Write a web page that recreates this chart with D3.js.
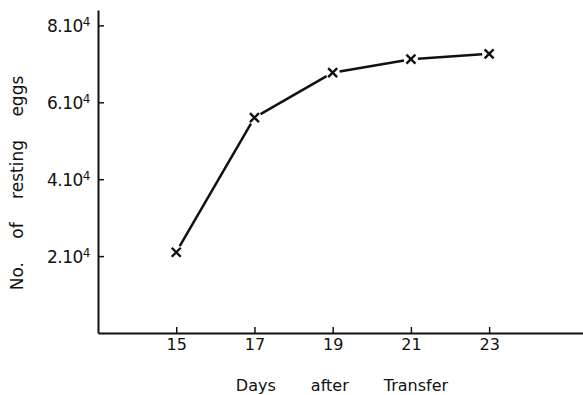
<!DOCTYPE html>
<html>
<head>
<meta charset="utf-8">
<script src="https://cdn.jsdelivr.net/npm/d3@7"></script>
<style>
  body { margin: 0; background: #fff; }
  svg { display: block; }
  text { font-family: "DejaVu Sans", sans-serif; fill: #111; }
</style>
</head>
<body>
<svg></svg>
<script>
const days = [15, 17, 19, 21, 23];
const eggs = [21000, 56000, 67700, 71200, 72600];
const xTicks = [15, 17, 19, 21, 23];
const yTicks = [20000, 40000, 60000, 80000];
const yTickLabels = ["2.10", "4.10", "6.10", "8.10"];

const width = 583;
const height = 395;
const svg = d3.select("svg")
    .attr("width", width)
    .attr("height", height);

const x = d3.scaleLinear().domain([13, 25.4]).range([98, 583]);
const y = d3.scaleLinear().domain([0, 84000]).range([333, 10]);

// axes
const xAxis = svg.append("g")
    .attr("transform", `translate(0,${y(0)})`)
    .call(d3.axisBottom(x).tickValues(xTicks).tickSize(-6).tickSizeOuter(0).tickFormat(d3.format("d")));
xAxis.select(".domain").attr("stroke", "#111").attr("stroke-width", 2);
xAxis.selectAll(".tick line").attr("stroke", "#111").attr("stroke-width", 1.5);
xAxis.selectAll(".tick text")
    .attr("y", 6)
    .style("font-size", "16px");

const yAxis = svg.append("g")
    .attr("transform", `translate(${x(13)},0)`)
    .call(d3.axisLeft(y).tickValues(yTicks).tickSize(-6).tickSizeOuter(0).tickFormat(() => ""));
yAxis.select(".domain").attr("stroke", "#111").attr("stroke-width", 2);
yAxis.selectAll(".tick line").attr("stroke", "#111").attr("stroke-width", 1.5);
yAxis.selectAll(".tick text").each(function(d, i) {
    const t = d3.select(this)
        .attr("x", -8)
        .attr("dy", "0.35em")
        .style("font-size", "17px")
        .style("letter-spacing", "-0.5px");
    t.text(yTickLabels[i]);
    t.append("tspan")
        .attr("dy", "-0.5em")
        .style("font-size", "12px")
        .text("4");
});

// line with gaps around markers
const gap = 7;
for (let i = 0; i < days.length - 1; i++) {
    const x1 = x(days[i]), y1 = y(eggs[i]);
    const x2 = x(days[i + 1]), y2 = y(eggs[i + 1]);
    const len = Math.hypot(x2 - x1, y2 - y1);
    const ux = (x2 - x1) / len, uy = (y2 - y1) / len;
    svg.append("line")
        .attr("x1", x1 + ux * gap).attr("y1", y1 + uy * gap)
        .attr("x2", x2 - ux * gap).attr("y2", y2 - uy * gap)
        .attr("stroke", "#111")
        .attr("stroke-width", 2.5);
}

// x markers
const m = 4.5;
svg.selectAll("path.marker")
    .data(days.map((d, i) => [d, eggs[i]]))
    .enter().append("path")
    .attr("class", "marker")
    .attr("d", d => {
        const cx = x(d[0]), cy = y(d[1]);
        return `M${cx - m},${cy - m}L${cx + m},${cy + m}M${cx - m},${cy + m}L${cx + m},${cy - m}`;
    })
    .attr("stroke", "#111")
    .attr("stroke-width", 2.4)
    .attr("fill", "none");

// axis titles
svg.append("text")
    .attr("x", 342)
    .attr("y", 386)
    .attr("dominant-baseline", "middle")
    .attr("text-anchor", "middle")
    .style("font-size", "16px")
    .style("word-spacing", "30px")
    .text("Days after Transfer");

svg.append("text")
    .attr("transform", "translate(18,183) rotate(-90)")
    .attr("dominant-baseline", "middle")
    .attr("text-anchor", "middle")
    .style("font-size", "17px")
    .style("word-spacing", "18px")
    .text("No. of resting eggs");
</script>
</body>
</html>
